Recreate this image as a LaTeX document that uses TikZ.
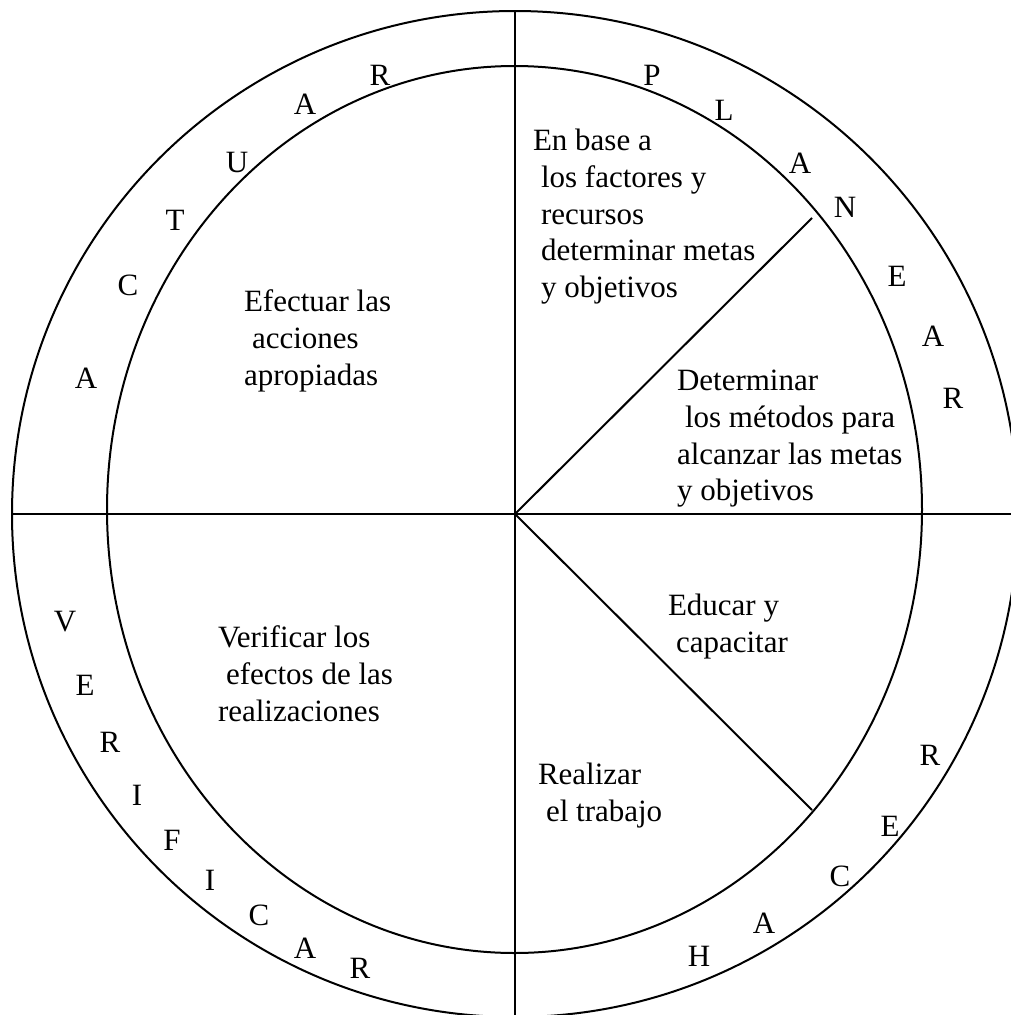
\documentclass[tikz,border=0pt]{standalone}
\usepackage{fontspec}
\setmainfont{Liberation Serif}
\begin{document}
\begin{tikzpicture}[x=1pt,y=-1pt,line width=2pt,
  lbl/.style={inner sep=0pt,font=\fontsize{31}{36.8}\selectfont},
  blk/.style={lbl,align=left,anchor=north west},
  ring/.style={lbl,anchor=center}]
\useasboundingbox (0,0) rectangle (1011,1015);
\begin{scope}
\clip (0,0) rectangle (1011,1015);
\coordinate (O) at (515,514);
\coordinate (Ec) at (514.5,509.5);
\coordinate (T) at (515,11);
\coordinate (B) at (515,1017);
\coordinate (L) at (12,514);
\coordinate (R) at (1018,514);
\coordinate (D1) at (812,218);
\coordinate (D2) at (812,810);
\draw (O) circle[radius=503];
\draw (Ec) ellipse[x radius=407.5,y radius=443.5];
\draw (T) -- (B);
\draw (L) -- (R);
\draw (O) -- (D1);
\draw (O) -- (D2);
\end{scope}
% text blocks
\node[blk] (b1) at (532,128) {En base a\\\hspace*{8pt}los factores y\\\hspace*{8pt}recursos\\\hspace*{8pt}determinar metas\\\hspace*{8pt}y objetivos};
\node[blk] (b2) at (676,369) {Determinar\\\hspace*{8pt}los métodos para\\alcanzar las metas\\y objetivos};
\node[blk] (b3) at (243,289) {Efectuar las\\\hspace*{8pt}acciones\\apropiadas};
\node[blk] (b4) at (217,625) {Verificar los\\\hspace*{8pt}efectos de las\\realizaciones};
\node[blk] (b5) at (667,593) {Educar y\\\hspace*{8pt}capacitar};
\node[blk] (b6) at (537,762) {Realizar\\\hspace*{8pt}el trabajo};
% ACTUAR
\node[ring] (a1) at (86,378) {A};
\node[ring] (a2) at (128,285) {C};
\node[ring] (a3) at (175,220) {T};
\node[ring] (a4) at (237,162) {U};
\node[ring] (a5) at (305,104) {A};
\node[ring] (a6) at (380,75) {R};
% PLANEAR
\node[ring] (p1) at (652,75) {P};
\node[ring] (p2) at (724,110) {L};
\node[ring] (p3) at (800,163) {A};
\node[ring] (p4) at (845,207) {N};
\node[ring] (p5) at (897,276) {E};
\node[ring] (p6) at (933,336) {A};
\node[ring] (p7) at (953,398) {R};
% HACER
\node[ring] (h1) at (699,956) {H};
\node[ring] (h2) at (764,923) {A};
\node[ring] (h3) at (840,876) {C};
\node[ring] (h4) at (890,826) {E};
\node[ring] (h5) at (930,755) {R};
% VERIFICAR
\node[ring] (v1) at (65,622) {V};
\node[ring] (v2) at (85,685) {E};
\node[ring] (v3) at (110,742) {R};
\node[ring] (v4) at (137,795) {I};
\node[ring] (v5) at (172,840) {F};
\node[ring] (v6) at (210,880) {I};
\node[ring] (v7) at (259,915) {C};
\node[ring] (v8) at (305,948) {A};
\node[ring] (v9) at (360,968) {R};
\end{tikzpicture}
\end{document}
